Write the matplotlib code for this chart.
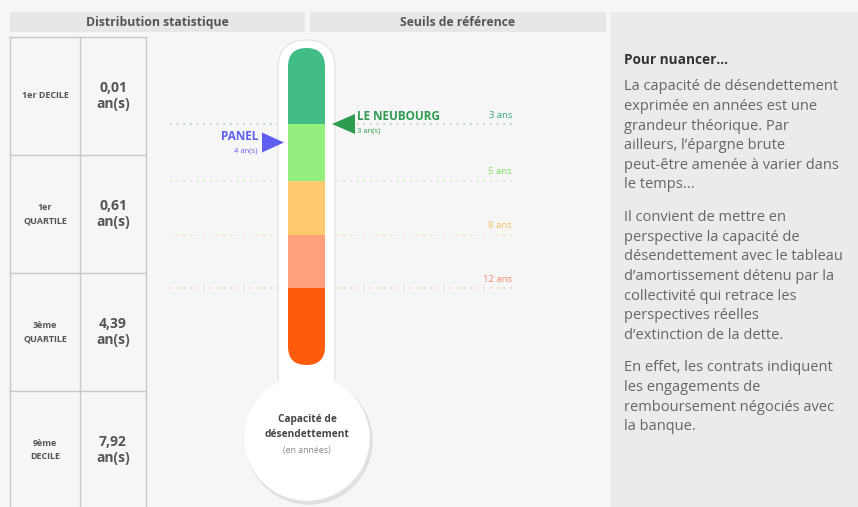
import numpy as np
import matplotlib
matplotlib.use("Agg")
from matplotlib import pyplot as plt
from matplotlib.patches import Rectangle, FancyBboxPatch, Circle, Polygon

plt.rcParams['font.family'] = ['Open Sans', 'DejaVu Sans']

# --- data ---
stat_labels = ['1er DECILE', '1er\nQUARTILE', '3ème\nQUARTILE', '9ème\nDECILE']
stat_values = [0.01, 0.61, 4.39, 7.92]

threshold_years = [3, 5, 8, 12]
threshold_labels = ['3 ans', '5 ans', '8 ans', '12 ans']
segment_colors = ['#43bd88', '#93f07f', '#fdca6e', '#fda27c', '#ff5b0c']
label_colors = ['#3aa877', '#7fe06a', '#f5c060', '#f58a6a']

panel_name, panel_value = 'PANEL', 4
commune_name, commune_value = 'LE NEUBOURG', 3

side_title = 'Pour nuancer...'
side_paragraphs = [
    ['La capacité de désendettement', 'exprimée en années est une',
     'grandeur théorique. Par', 'ailleurs, l\u2019épargne brute',
     'peut-être amenée à varier dans', 'le temps...'],
    ['Il convient de mettre en', 'perspective la capacité de',
     'désendettement avec le tableau', 'd\u2019amortissement détenu par la',
     'collectivité qui retrace les', 'perspectives réelles',
     'd\u2019extinction de la dette.'],
    ['En effet, les contrats indiquent', 'les engagements de',
     'remboursement négociés avec', 'la banque.'],
]

# scale of the thermometer: years -> pixel row
scale_years = [0, 3, 5, 8, 12, 16]
scale_px = [48, 124, 181, 235, 288, 365]


def year_to_y(v):
    return np.interp(v, scale_years, scale_px)


fig = plt.figure(figsize=(8.58, 5.07), dpi=100)
fig.patch.set_facecolor('#f6f6f6')
ax = fig.add_axes([0, 0, 1, 1])
ax.set_xlim(0, 858)
ax.set_ylim(507, 0)
ax.axis('off')

# headers
ax.add_patch(Rectangle((10, 12), 295, 20, color='#e7e7e7', lw=0))
ax.add_patch(Rectangle((310, 12), 296, 20, color='#e7e7e7', lw=0))
ax.text(157, 22.5, 'Distribution statistique', ha='center', va='center',
        fontsize=8.8, fontweight='bold', color='#555555')
ax.text(458, 22.5, 'Seuils de référence', ha='center', va='center',
        fontsize=8.8, fontweight='bold', color='#555555')

# side panel
ax.add_patch(Rectangle((610, 12), 260, 500, color='#ebebeb', lw=0))

# statistics table
row_h = 118
top = 37
grid_c = '#c8c8c8'
for i, (lab, val) in enumerate(zip(stat_labels, stat_values)):
    y0 = top + i * row_h
    ax.plot([10, 146], [y0, y0], color=grid_c, lw=1)
    yc = y0 + row_h / 2
    ax.text(45, yc, lab, ha='center', va='center', fontsize=6.5,
            fontweight='bold', color='#555555', linespacing=1.6)
    ax.text(113, yc, f'{val:.2f}'.replace('.', ',') + '\nan(s)', ha='center',
            va='center', fontsize=10, fontweight='bold', color='#555555',
            linespacing=1.15)
for x in [10, 80, 146]:
    ax.plot([x, x], [top, 507], color=grid_c, lw=1)

# threshold dotted lines
for yr, lab, c in zip(threshold_years, threshold_labels, label_colors):
    y = year_to_y(yr)
    ax.plot([170, 515], [y, y], color=c, lw=1.2, ls=(0, (1, 3)), alpha=0.45, zorder=1)
    ax.text(512, y - 9, lab, ha='right', va='center', fontsize=6.8,
            color=c, zorder=2)

# thermometer: shadow, tube and bulb
ax.add_patch(Circle((309, 441), 63, color='#dcdcdc', alpha=0.8, zorder=2))
ax.add_patch(FancyBboxPatch((278, 40), 57, 360, boxstyle='round,pad=0,rounding_size=28',
                            fc='white', ec='#e2e2e2', lw=0.8, zorder=3))
ax.add_patch(Circle((307, 438), 62, color='white', zorder=4))
ax.add_patch(Rectangle((279, 370), 55, 30, color='white', lw=0, zorder=4))

clip = FancyBboxPatch((288, 48), 37, 317, boxstyle='round,pad=0,rounding_size=18.5',
                      fc='none', ec='none', transform=ax.transData)
ax.add_patch(clip)
bounds = [scale_years[0]] + threshold_years + [scale_years[-1]]
for k, c in enumerate(segment_colors):
    ya, yb = year_to_y(bounds[k]), year_to_y(bounds[k + 1])
    seg = Rectangle((288, ya), 37, yb - ya, color=c, lw=0, zorder=5)
    ax.add_patch(seg)
    seg.set_clip_path(clip)

ax.text(307, 427, 'Capacité de\ndésendettement', ha='center', va='center',
        fontsize=7.3, fontweight='bold', color='#444444', linespacing=1.4, zorder=6)
ax.text(307, 451, '(en années)', ha='center', va='center', fontsize=6.3,
        color='#888888', zorder=6)

# markers
yp = year_to_y(panel_value) - 10
ax.add_patch(Polygon([[262, yp - 10], [262, yp + 10], [284, yp]], color='#5f5ff2', lw=0, zorder=6))
ax.text(258, yp - 6, panel_name, ha='right', va='center', fontsize=8.5,
        fontweight='bold', color='#5f5ff2', zorder=6)
ax.text(258, yp + 8, f'{panel_value} an(s)', ha='right', va='center', fontsize=5.5,
        color='#5f5ff2', zorder=6)

yn = year_to_y(commune_value)
ax.add_patch(Polygon([[355, yn - 10], [355, yn + 10], [332, yn]], color='#2e9c4f', lw=0, zorder=6))
ax.text(357, yn - 7, commune_name, ha='left', va='center', fontsize=8.5,
        fontweight='bold', color='#2e9c4f', zorder=6)
ax.text(357, yn + 7, f'{commune_value} an(s)', ha='left', va='center', fontsize=5.5,
        color='#2e9c4f', zorder=6)

# side text
ax.text(624, 60, side_title, ha='left', va='center', fontsize=9.8,
        fontweight='bold', color='#333333')
y = 87
for para in side_paragraphs:
    for line in para:
        ax.text(624, y, line, ha='left', va='center', fontsize=10.5, color='#666666')
        y += 19.6
    y += 13

fig.savefig('out.png', dpi=100, facecolor=fig.get_facecolor())
